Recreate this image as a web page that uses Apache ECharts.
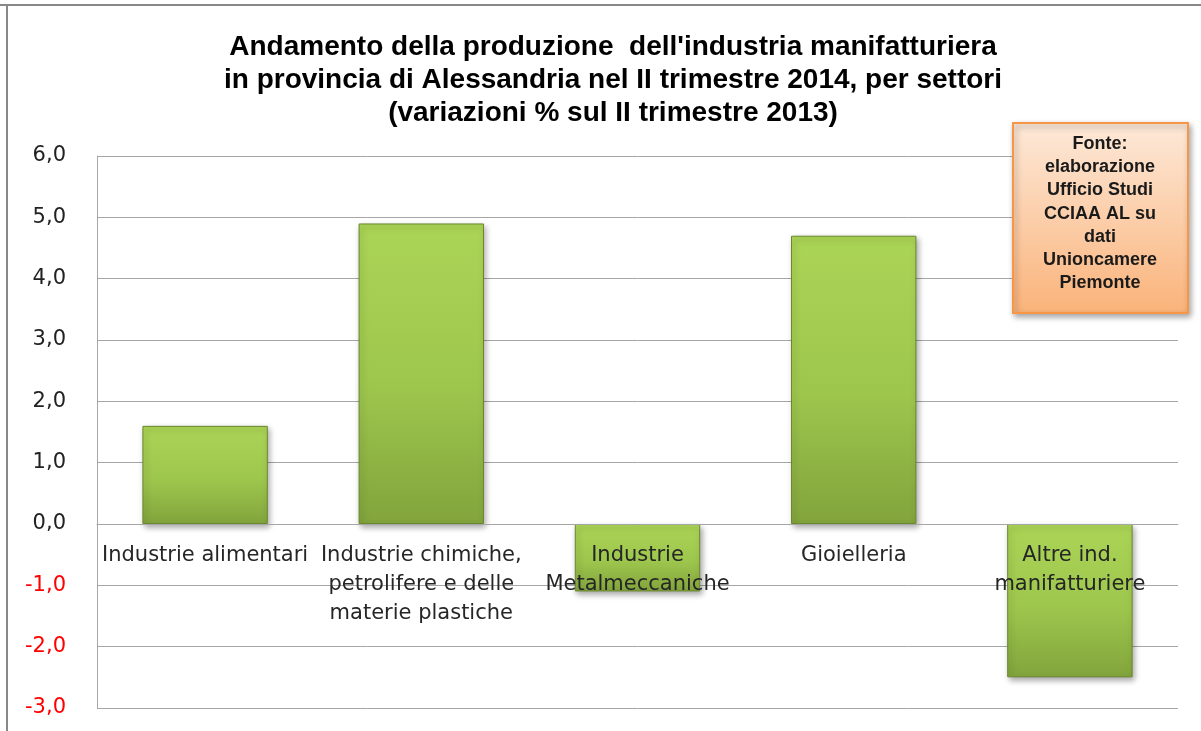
<!DOCTYPE html>
<html>
<head>
<meta charset="utf-8">
<title>Produzione industria manifatturiera - Alessandria</title>
<script src="https://cdn.jsdelivr.net/npm/echarts@6/dist/echarts.min.js"></script>
<style>
  html, body { margin: 0; padding: 0; background: #fff; }
  #main { width: 1201px; height: 731px; }
</style>
</head>
<body>
<div id="main"></div>
<script type="text/javascript">
// dati
var settori = [
  'Industrie alimentari',
  'Industrie chimiche,\npetrolifere e delle\nmaterie plastiche',
  'Industrie\nMetalmeccaniche',
  'Gioielleria',
  'Altre ind.\nmanifatturiere'
];
var variazioni = [1.6, 4.9, -1.1, 4.7, -2.5];
var titolo = "Andamento della produzione  dell'industria manifatturiera\nin provincia di Alessandria nel II trimestre 2014, per settori\n(variazioni % sul II trimestre 2013)";
var fonte = 'Fonte:\nelaborazione\nUfficio Studi\nCCIAA AL su\ndati\nUnioncamere\nPiemonte';

var myChart = echarts.init(document.getElementById('main'));

var verde = new echarts.graphic.LinearGradient(0, 0, 0, 1, [
  { offset: 0, color: '#abd556' },
  { offset: 0.55, color: '#9dc64d' },
  { offset: 1, color: '#82a43c' }
]);

var option = {
  animation: false,
  title: {
    text: titolo,
    left: 608,
    top: 26,
    textAlign: 'center',
    textStyle: {
      fontFamily: 'Liberation Sans',
      fontWeight: 'bold',
      fontSize: 28,
      lineHeight: 33,
      color: '#000'
    }
  },
  grid: {
    left: 97,
    right: 23,
    top: 156,
    bottom: 23,
    containLabel: false,
    outerBoundsMode: 'none'
  },
  xAxis: {
    type: 'category',
    data: settori,
    position: 'bottom',
    // asse spostato sullo zero (184 px sopra il fondo della griglia)
    offset: -184,
    z: 10,
    axisLine: { show: true, onZero: false, lineStyle: { color: '#a6a6a6', width: 1 } },
    axisTick: { show: false },
    axisLabel: {
      interval: 0,
      margin: 17,
      fontFamily: 'DejaVu Sans',
      fontSize: 21,
      lineHeight: 29,
      color: '#262626'
    }
  },
  yAxis: {
    type: 'value',
    min: -3,
    max: 6,
    interval: 1,
    axisLine: { show: true, lineStyle: { color: '#a6a6a6', width: 1 } },
    axisTick: { show: false },
    splitLine: { lineStyle: { color: '#a6a6a6', width: 1 } },
    axisLabel: {
      margin: 31,
      fontFamily: 'DejaVu Sans',
      fontSize: 21,
      formatter: function (v) { return v.toFixed(1).replace('.', ','); },
      color: function (v) { return Number(v) < 0 ? '#ff0000' : '#222222'; }
    }
  },
  series: [{
    type: 'bar',
    data: variazioni,
    barWidth: '58%',
    itemStyle: {
      color: verde,
      borderColor: '#6a872e',
      borderWidth: 1,
      shadowColor: 'rgba(0,0,0,0.35)',
      shadowBlur: 6,
      shadowOffsetX: 2,
      shadowOffsetY: 3
    }
  }],
  graphic: [
    {
      type: 'line',
      shape: { x1: 0, y1: 5, x2: 1201, y2: 5 },
      style: { stroke: '#888888', lineWidth: 2 }
    },
    {
      type: 'line',
      shape: { x1: 7, y1: 4, x2: 7, y2: 731 },
      style: { stroke: '#888888', lineWidth: 2 }
    },
    {
      type: 'rect',
      z: 20,
      shape: { x: 1013, y: 123, width: 175, height: 190 },
      style: {
        fill: new echarts.graphic.LinearGradient(0, 0, 0, 1, [
          { offset: 0, color: '#fde9d9' },
          { offset: 1, color: '#fab37a' }
        ]),
        stroke: '#f79646',
        lineWidth: 2,
        shadowColor: 'rgba(0,0,0,0.35)',
        shadowBlur: 6,
        shadowOffsetX: 2,
        shadowOffsetY: 3
      }
    },
    {
      type: 'text',
      z: 21,
      x: 1100,
      y: 132,
      style: {
        text: fonte,
        align: 'center',
        fontFamily: 'Liberation Sans',
        fontWeight: 'bold',
        fontSize: 18,
        lineHeight: 23.3,
        fill: '#1a1a1a'
      }
    }
  ]
};
myChart.setOption(option);
</script>
</body>
</html>
